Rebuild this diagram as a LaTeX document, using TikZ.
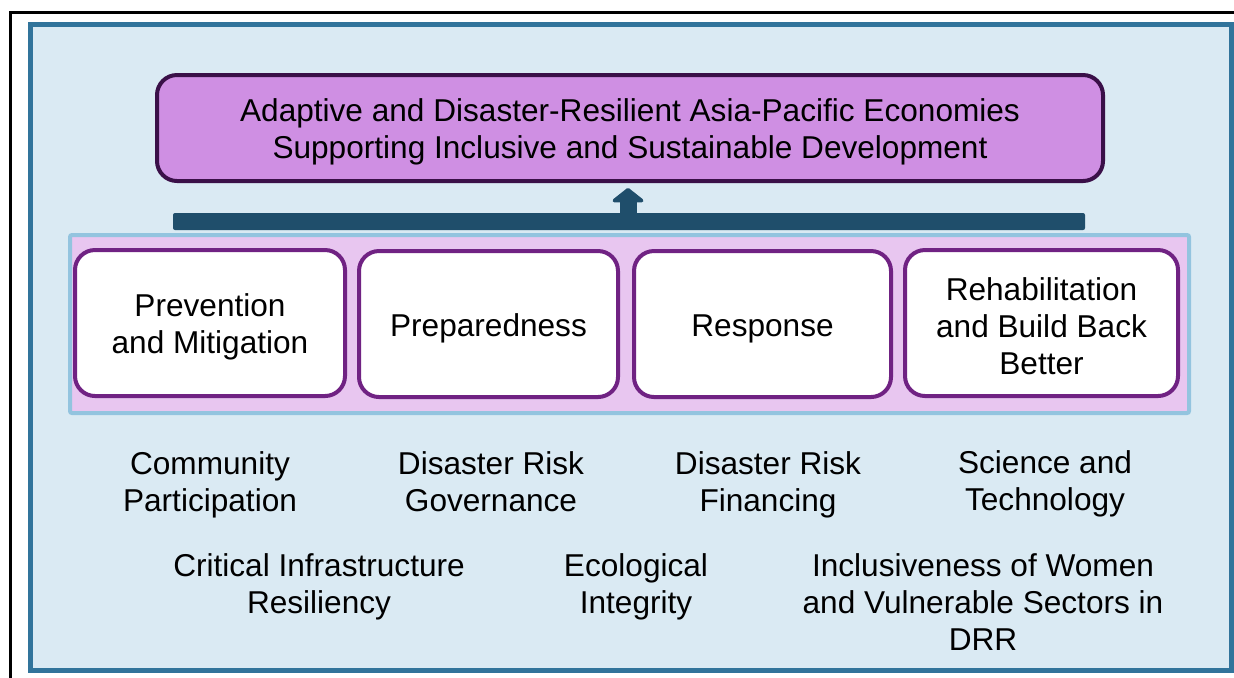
\documentclass[tikz,border=0pt]{standalone}
\usepackage{fontspec}
\setmainfont{Liberation Sans}
\usetikzlibrary{arrows.meta}

\definecolor{panelfill}{HTML}{DAEAF3}
\definecolor{panelline}{HTML}{31749B}
\definecolor{goalfill}{HTML}{CF8FE3}
\definecolor{goalline}{HTML}{3A1048}
\definecolor{barblue}{HTML}{1F4E6B}
\definecolor{bandfill}{HTML}{E8C6F0}
\definecolor{bandline}{HTML}{93C4DF}
\definecolor{pillarline}{HTML}{702283}

\begin{document}
\begin{tikzpicture}[x=0.5pt, y=-0.5pt,
  every node/.style={font=\fontsize{15.8}{18.5}\selectfont, align=center, inner sep=0pt},
  pillar node/.style={draw=pillarline, line width=2pt, fill=white, rounded corners=10pt, minimum height=73pt},
  theme node/.style={text=black}]
\useasboundingbox (0,0) rectangle (1234,677);
\fill[white] (0,0) rectangle (1234,677);
\clip (0,0) rectangle (1234,677);
% frames
\draw[black, line width=1.5pt] (10,12) rectangle (1260,700);
\draw[panelline, fill=panelfill, line width=2.5pt] (30.5,24.5) rectangle (1231,670.5);

% goal and bar
\node[draw=goalline, fill=goalfill, line width=2pt, rounded corners=10pt,
      minimum width=473pt, minimum height=53pt,
      label={[yshift=-2pt]center:Adaptive and Disaster-Resilient Asia-Pacific Economies\\Supporting Inclusive and Sustainable Development}]
  (goal) at (630,128) {};
\node[fill=barblue, rounded corners=1pt, minimum width=456pt, minimum height=8.5pt] (bar) at (629,221.5) {};
\draw[barblue, line width=8.5pt, -{Triangle[length=7.5pt, width=18.5pt, round]}]
  (628,213) -- (628,188);

% pillars
\node[draw=bandline, fill=bandfill, line width=2pt, rounded corners=1pt,
      minimum width=559.5pt, minimum height=89pt] (band) at (629.5,324) {};
\node[pillar node, minimum width=135pt, label={[yshift=-2pt]center:Prevention\\and Mitigation}] (prev) at (210,323) {};
\node[pillar node, minimum width=129.5pt, label={[yshift=-2.2pt]center:Preparedness}] (prep) at (488.5,324) {};
\node[pillar node, minimum width=128.5pt, label={[yshift=-2.5pt]center:Response}] (resp) at (762.5,324) {};
\node[pillar node, minimum width=136.5pt, label={[yshift=-1.5pt]center:Rehabilitation\\and Build Back\\Better}] (rehab) at (1041.5,323) {};

% cross-cutting themes
\node[theme node] (comm)  at (210,485)   {Community\\Participation};
\node[theme node] (gov)   at (491,482)   {Disaster Risk\\Governance};
\node[theme node] (fin)   at (768,485)   {Disaster Risk\\Financing};
\node[theme node] (sci)   at (1045,484)  {Science and\\Technology};
\node[theme node] (infra) at (319,586.5) {Critical Infrastructure\\Resiliency};
\node[theme node] (eco)   at (636,586.5) {Ecological\\Integrity};
\node[theme node] (incl)  at (983,602)   {Inclusiveness of Women\\and Vulnerable Sectors in\\DRR};
\end{tikzpicture}
\end{document}
